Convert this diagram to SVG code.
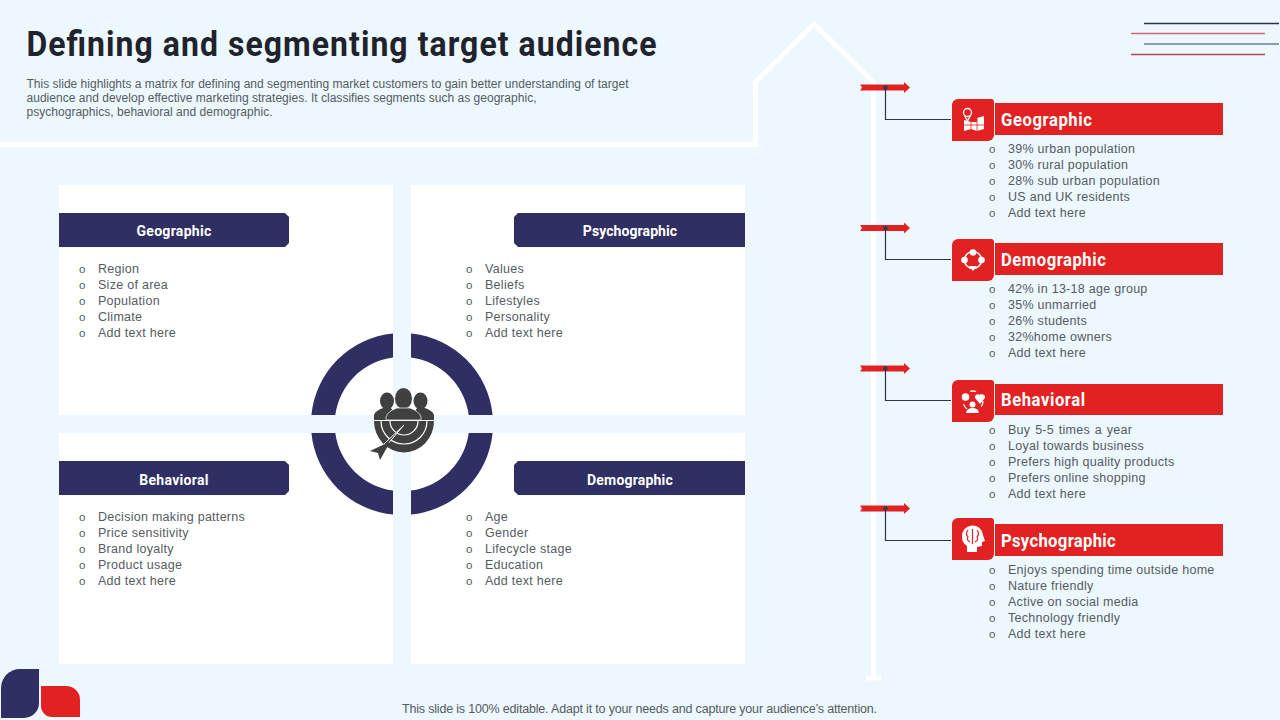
<svg xmlns="http://www.w3.org/2000/svg" width="1280" height="720" viewBox="0 0 1280 720">
<style>
.h{font-family:Roboto,"Liberation Sans",sans-serif;font-weight:700;fill:#fff}
.s{font-size:14px;letter-spacing:.3px;text-anchor:middle}
.t{font-size:18.5px}
.b{font-family:"Liberation Sans",Arial,sans-serif;font-size:12.5px;fill:#565b62}
.l{letter-spacing:.28px}
.o{font-family:"Liberation Sans",Arial,sans-serif;font-size:11.5px;fill:#565b62}
.n{fill:#2f2f64}
.r{fill:#e22222}
.ic{fill:#fff}
.il{fill:none;stroke:#fff;stroke-width:1.3}
.c{fill:none;stroke:#2e3644;stroke-width:1.2}
</style>
<defs>
<path id="ibox" class="r" d="M952 105a6 6 0 0 1 6-6h33a3 3 0 0 1 3 3v33a6 6 0 0 1-6 6h-36z"/>
<g id="arrow"><path class="r" d="M860 84.500H904V82L910 87.500L904 93V90.500H860L862 87.500Z"/><circle cx="885.500" cy="87.500" r="2.300" fill="#3c3c48"/></g>
</defs>
<rect width="1280" height="720" fill="#ecf7fe"/>
<path id="house" d="M0 144.500H755.500V82L814 24L873.500 82V678M866 678H881" fill="none" stroke="#fff" stroke-width="5"/>
<g id="corner-lines" fill="none" stroke-width="1.300">
<path d="M1144 23.500H1279" stroke="#27324a"/>
<path d="M1131 33.500H1265" stroke="#d9686c"/>
<path d="M1144 44H1279" stroke="#6f7d95"/>
<path d="M1131 54.500H1265" stroke="#b9454d"/>
</g>
<text transform="scale(.9 1)" x="29.400" y="56" font-family="Roboto,'Liberation Sans',sans-serif" font-weight="700" font-size="35.500" fill="#20232b" textLength="700" lengthAdjust="spacing">Defining and segmenting target audience</text>
<g class="b" style="font-size:12px">
<text x="26.500" y="88" textLength="602">This slide highlights a matrix for defining and segmenting market customers to gain better understanding of target</text>
<text x="26.500" y="102" textLength="510">audience and develop effective marketing strategies. It classifies segments such as geographic,</text>
<text x="26.500" y="116" textLength="246">psychographics, behavioral and demographic.</text>
</g>
<g id="panels" fill="#fff">
<rect x="59" y="185" width="334" height="230"/>
<rect x="411" y="185" width="334" height="230"/>
<rect x="59" y="433" width="334" height="231"/>
<rect x="411" y="433" width="334" height="231"/>
</g>
<g id="target-ring">
<path class="n" d="M393 333.400A91 91 0 0 0 311.400 415H335.300A67 67 0 0 1 393 357.500Z"/>
<path class="n" d="M411 333.400A91 91 0 0 1 492.600 415H468.700A67 67 0 0 0 411 357.500Z"/>
<path class="n" d="M393 514.600A91 91 0 0 1 311.400 433H335.300A67 67 0 0 0 393 490.500Z"/>
<path class="n" d="M411 514.600A91 91 0 0 0 492.600 433H468.700A67 67 0 0 1 411 490.500Z"/>
<g id="audience-icon" fill="#404040">
<ellipse cx="387" cy="401" rx="7" ry="8.500"/><ellipse cx="420.500" cy="401" rx="7" ry="8.500"/>
<path d="M374 420V415Q375 411 383 408H391L398 420ZM434 420V415Q433 411 425 408H417L410 420Z"/>
<ellipse cx="403.500" cy="398.500" rx="8.500" ry="10.500"/>
<path d="M386 420V417Q388 411 397 408H410Q419 411 421 417V420Z" stroke="#fff" stroke-width=".7"/>
<path d="M374 421H434A30 31.500 0 0 1 404 452.500A30 31.500 0 0 1 374 421Z"/>
<g fill="none" stroke="#fff" stroke-width="1.200"><path d="M381 421A23 23 0 0 0 427 421"/><path d="M390 421A14 14 0 0 0 418 421"/></g>
<path d="M404 425L386 446L384 444Z" stroke="#fff" stroke-width="1"/>
<path d="M389 442L370 451L378 453L380 460L389 444Z"/>
</g>
</g>
<g id="geographic">
<path class="n" d="M59 213H285L289 217V243L285 247H59Z"/>
<text class="h s" x="174" y="235.500">Geographic</text>
<g transform="translate(0 -.6)">
<g class="o"><text x="79" y="274">o</text><text x="79" y="290">o</text><text x="79" y="306">o</text><text x="79" y="322">o</text><text x="79" y="338">o</text></g>
<g class="b l"><text x="98" y="274">Region</text><text x="98" y="290">Size of area</text><text x="98" y="306">Population</text><text x="98" y="322">Climate</text><text x="98" y="338">Add text here</text></g>
</g>
</g>
<g id="psychographic">
<path class="n" d="M745 213H518L514 217V243L518 247H745Z"/>
<text class="h s" x="630" y="235.500" style="letter-spacing:.08px">Psychographic</text>
<g transform="translate(0 -.6)">
<g class="o"><text x="466" y="274">o</text><text x="466" y="290">o</text><text x="466" y="306">o</text><text x="466" y="322">o</text><text x="466" y="338">o</text></g>
<g class="b l"><text x="485" y="274">Values</text><text x="485" y="290">Beliefs</text><text x="485" y="306">Lifestyles</text><text x="485" y="322">Personality</text><text x="485" y="338">Add text here</text></g>
</g>
</g>
<g id="behavioral">
<path class="n" d="M59 461H285L289 465V491L285 495H59Z"/>
<text class="h s" x="174" y="484.500">Behavioral</text>
<g transform="translate(0 -.6)">
<g class="o"><text x="79" y="522">o</text><text x="79" y="538">o</text><text x="79" y="554">o</text><text x="79" y="570">o</text><text x="79" y="586">o</text></g>
<g class="b l"><text x="98" y="522">Decision making patterns</text><text x="98" y="538">Price sensitivity</text><text x="98" y="554">Brand loyalty</text><text x="98" y="570">Product usage</text><text x="98" y="586">Add text here</text></g>
</g>
</g>
<g id="demographic">
<path class="n" d="M745 461H518L514 465V491L518 495H745Z"/>
<text class="h s" x="630" y="484.500" style="letter-spacing:.2px">Demographic</text>
<g transform="translate(0 -.6)">
<g class="o"><text x="466" y="522">o</text><text x="466" y="538">o</text><text x="466" y="554">o</text><text x="466" y="570">o</text><text x="466" y="586">o</text></g>
<g class="b l"><text x="485" y="522">Age</text><text x="485" y="538">Gender</text><text x="485" y="554">Lifecycle stage</text><text x="485" y="570">Education</text><text x="485" y="586">Add text here</text></g>
</g>
</g>
<g id="connectors">
<use href="#arrow"/><use href="#arrow" y="140.500"/><use href="#arrow" y="281"/><use href="#arrow" y="421"/>
<path class="c" d="M885.500 88V119.500H951"/>
<path class="c" d="M885.500 228V259.500H951"/>
<path class="c" d="M885.500 369V400.500H951"/>
<path class="c" d="M885.500 509V540.500H951"/>
</g>
<g id="r-geographic">
<use href="#ibox"/>
<rect class="r" x="995" y="103" width="228" height="32"/>
<text class="h t" transform="scale(.9 1)" x="1112.200" y="126" textLength="101">Geographic</text>
<circle class="il" cx="967.500" cy="112.500" r="4"/><path class="il" d="M964.500 115.500L967.500 121L970.500 115.500"/>
<path class="ic" d="M964 120V131L971 129L977 131L984 129V116L977 118V122H971Z"/>
<path d="M971 122V129M977 118V131M964 125H984" stroke="#e22222" stroke-width=".8" fill="none"/>
<g transform="translate(0 -.4)">
<g class="o"><text x="989" y="153">o</text><text x="989" y="169">o</text><text x="989" y="185">o</text><text x="989" y="201">o</text><text x="989" y="217">o</text></g>
<g class="b l"><text x="1008" y="153">39% urban population</text><text x="1008" y="169">30% rural population</text><text x="1008" y="185">28% sub urban population</text><text x="1008" y="201">US and UK residents</text><text x="1008" y="217">Add text here</text></g>
</g>
</g>
<g id="r-demographic">
<use href="#ibox" y="140"/>
<rect class="r" x="995" y="243" width="228" height="32"/>
<text class="h t" transform="scale(.9 1)" x="1112.200" y="266" textLength="116.500">Demographic</text>
<circle cx="973" cy="260" r="8.500" fill="none" stroke="#fff" stroke-width="1.500"/>
<circle class="ic" cx="973" cy="252.500" r="3.300"/><circle class="ic" cx="964.500" cy="260" r="3.300"/><circle class="ic" cx="981.500" cy="260" r="3.300"/>
<path class="ic" d="M969 266L973 271L977 266Z"/>
<g transform="translate(0 -.4)">
<g class="o"><text x="989" y="293">o</text><text x="989" y="309">o</text><text x="989" y="325">o</text><text x="989" y="341">o</text><text x="989" y="357">o</text></g>
<g class="b l"><text x="1008" y="293">42% in 13-18 age group</text><text x="1008" y="309">35% unmarried</text><text x="1008" y="325">26% students</text><text x="1008" y="341">32%home owners</text><text x="1008" y="357">Add text here</text></g>
</g>
</g>
<g id="r-behavioral">
<use href="#ibox" y="281"/>
<rect class="r" x="995" y="384" width="228" height="31"/>
<text class="h t" transform="scale(.9 1)" x="1112.200" y="406" textLength="93.500">Behavioral</text>
<circle class="il" cx="973" cy="401" r="10" stroke-dasharray="6 5"/>
<circle class="ic" cx="965.500" cy="397" r="3.800"/>
<path class="ic" d="M980 404L975.500 398.500A2.700 2.700 0 0 1 980 395.500A2.700 2.700 0 0 1 984.500 398.500Z"/>
<circle class="ic" cx="972.500" cy="404.500" r="3"/><path class="ic" d="M966 413Q967 408 972.500 408Q978 408 979 413Z"/>
<g transform="translate(0 -.4)">
<g class="o"><text x="989" y="434">o</text><text x="989" y="450">o</text><text x="989" y="466">o</text><text x="989" y="482">o</text><text x="989" y="498">o</text></g>
<g class="b l"><text x="1008" y="434" word-spacing="1">Buy 5-5 times a year</text><text x="1008" y="450">Loyal towards business</text><text x="1008" y="466">Prefers high quality products</text><text x="1008" y="482">Prefers online shopping</text><text x="1008" y="498">Add text here</text></g>
</g>
</g>
<g id="r-psychographic">
<use href="#ibox" y="419"/>
<rect class="r" x="995" y="524" width="228" height="32"/>
<text class="h t" transform="scale(.9 1)" x="1112.200" y="547" textLength="127.500">Psychographic</text>
<path class="ic" d="M962 537A10.500 10.500 0 0 1 983 535L985 541L982 542V546L977 547V552H967V546Q962 543 962 537Z"/>
<path d="M972.500 529V544M968 530Q965 534 968 537Q966 540 970 542M977 530Q980 534 977 537Q979 540 975 542" stroke="#e22222" stroke-width="1.200" fill="none"/>
<g transform="translate(0 -.4)">
<g class="o"><text x="989" y="574">o</text><text x="989" y="590">o</text><text x="989" y="606">o</text><text x="989" y="622">o</text><text x="989" y="638">o</text></g>
<g class="b l"><text x="1008" y="574">Enjoys spending time outside home</text><text x="1008" y="590">Nature friendly</text><text x="1008" y="606">Active on social media</text><text x="1008" y="622">Technology friendly</text><text x="1008" y="638">Add text here</text></g>
</g>
</g>
<g id="logo">
<path class="n" d="M1 718V688A19 19 0 0 1 20 669H39V703A15 15 0 0 1 24 718Z"/>
<path class="r" d="M41 686H66A14 14 0 0 1 80 700V717H52A11 11 0 0 1 41 706Z"/>
</g>
<text class="b" x="639.500" y="713" text-anchor="middle" textLength="475">This slide is 100% editable. Adapt it to your needs and capture your audience’s attention.</text>
</svg>
